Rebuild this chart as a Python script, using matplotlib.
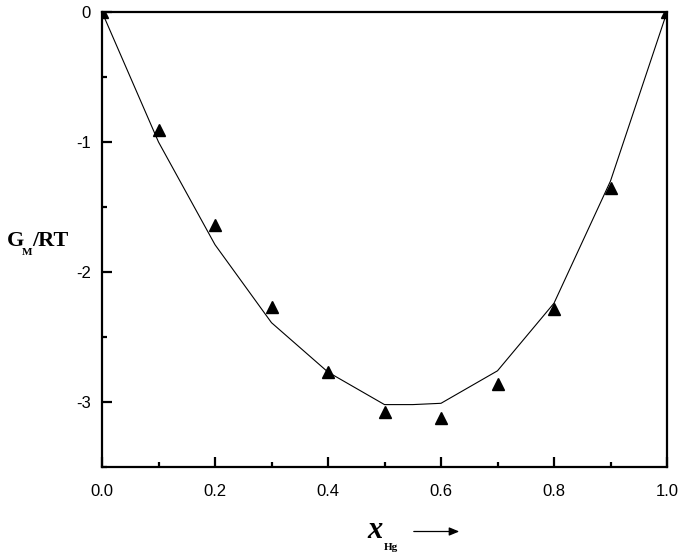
import matplotlib
matplotlib.use("Agg")
import matplotlib.pyplot as plt
import numpy as np

# Experimental points (triangles)
x_exp = [0.0, 0.1, 0.2, 0.3, 0.4, 0.5, 0.6, 0.7, 0.8, 0.9, 1.0]
g_exp = [0.0, -0.91, -1.64, -2.27, -2.77, -3.08, -3.12, -2.86, -2.285, -1.35, 0.0]

# Calculated curve (line)
x_calc = [0.0, 0.1, 0.2, 0.3, 0.4, 0.5, 0.55, 0.6, 0.7, 0.8, 0.9, 1.0]
g_calc = [0.0, -1.0, -1.79, -2.39, -2.77, -3.02, -3.02, -3.01, -2.76, -2.24, -1.30, 0.0]

x_ticks = [0.0, 0.2, 0.4, 0.6, 0.8, 1.0]
x_tick_labels = ["0.0", "0.2", "0.4", "0.6", "0.8", "1.0"]
y_ticks = [0, -1, -2, -3]
y_tick_labels = ["0", "-1", "-2", "-3"]

W, H = 685, 556
fig = plt.figure(figsize=(W / 100, H / 100), dpi=100)
ax = fig.add_axes([102 / W, 1 - 467 / H, (667 - 102) / W, (467 - 12) / H])

ax.plot(x_calc, g_calc, color="black", lw=0.8)
ax.plot(x_exp, g_exp, linestyle="none", marker="^", ms=8, color="black")

ax.set_xlim(0, 1)
ax.set_ylim(-3.5, 0)
ax.set_xticks(x_ticks)
ax.set_xticklabels(x_tick_labels)
ax.set_yticks(y_ticks)
ax.set_yticklabels(y_tick_labels)
ax.set_xticks(np.arange(0.1, 1.0, 0.2), minor=True)
ax.set_yticks([-0.5, -1.5, -2.5, -3.5], minor=True)

for s in ax.spines.values():
    s.set_linewidth(1.6)
ax.tick_params(which="major", direction="in", length=7, width=1.6,
               labelsize=12, labelfontfamily="Liberation Sans")
ax.tick_params(which="minor", direction="in", length=3.5, width=1.6)
ax.tick_params(axis="y", pad=8)
ax.tick_params(axis="x", pad=12)

# y label: G_M/RT
fig.text(7 / W, 1 - 246 / H, "G", fontsize=16, fontweight="bold",
         family="Liberation Serif", ha="left", va="baseline")
fig.text(22 / W, 1 - 255 / H, "M", fontsize=8, fontweight="bold",
         family="Liberation Serif", ha="left", va="baseline")
fig.text(32 / W, 1 - 246 / H, "/RT", fontsize=16, fontweight="bold",
         family="Liberation Serif", ha="left", va="baseline")

# x label: x_Hg with arrow
fig.text(367 / W, 1 - 538 / H, "x", fontsize=22, fontweight="bold",
         style="italic", family="Liberation Serif", ha="left", va="baseline")
fig.text(384 / W, 1 - 550 / H, "Hg", fontsize=8, fontweight="bold",
         family="Liberation Serif", ha="left", va="baseline")
fig.add_artist(matplotlib.patches.FancyArrowPatch(
    (411 / W, 1 - 531.5 / H), (462 / W, 1 - 531.5 / H),
    transform=fig.transFigure, arrowstyle="-|>,head_length=6,head_width=2.5",
    color="black", lw=0.9, mutation_scale=1))

fig.savefig("out.png", dpi=100)
